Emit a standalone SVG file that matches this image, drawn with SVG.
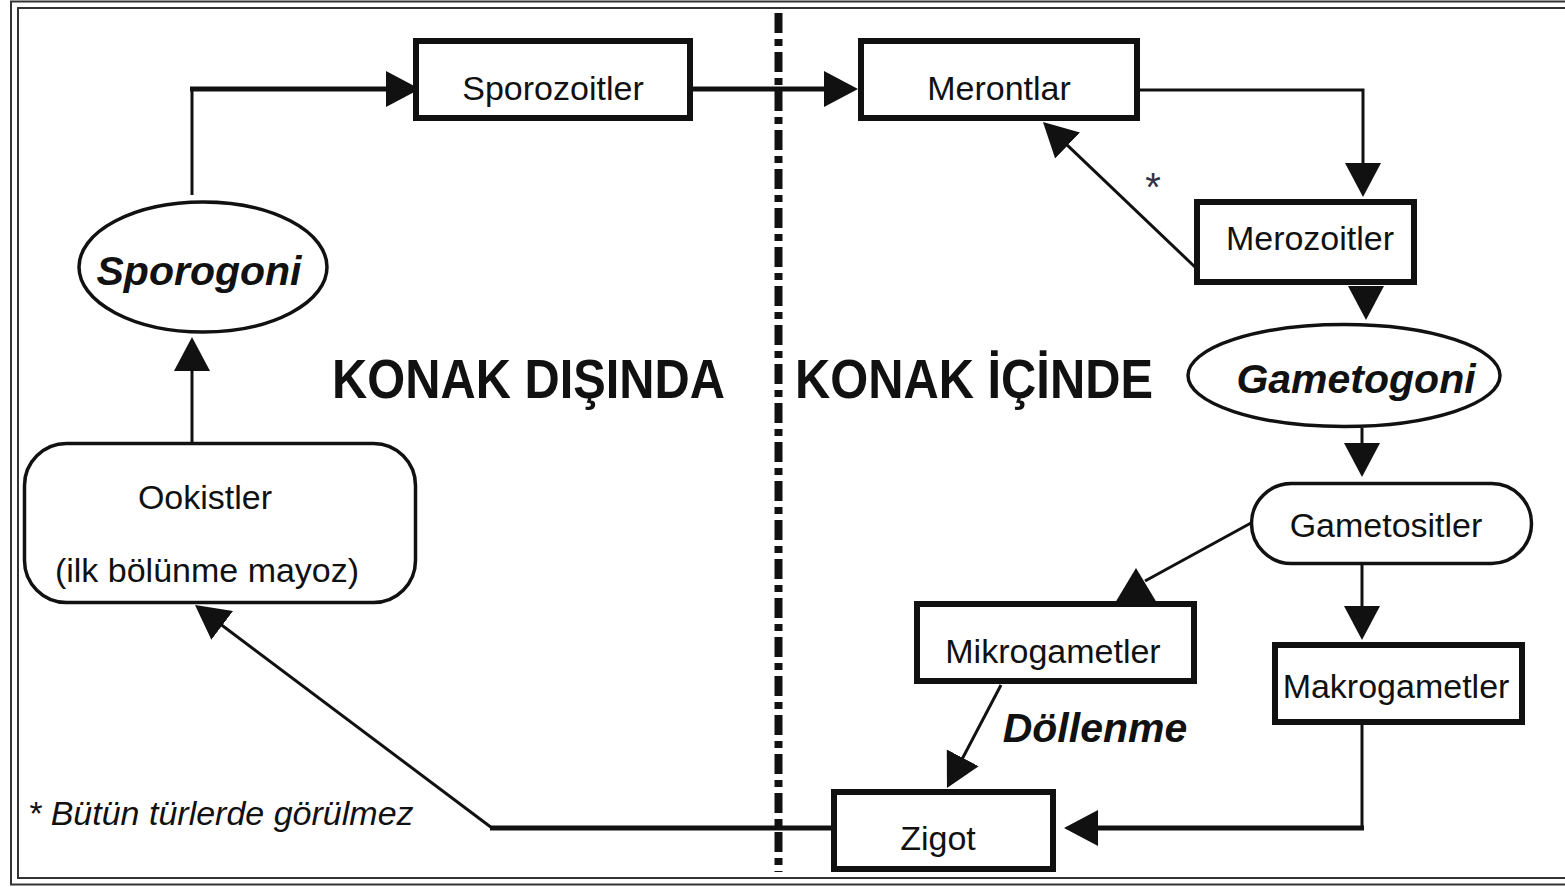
<svg xmlns="http://www.w3.org/2000/svg" width="1565" height="887" viewBox="0 0 1565 887">
<style>
.box{fill:#fff;stroke:#111;stroke-width:6}
.rnd{fill:#fff;stroke:#111;stroke-width:3.5}
.t{font-family:"Liberation Sans",Arial,sans-serif;font-size:34px;fill:#111;text-anchor:middle}
.bi{font-family:"Liberation Sans",Arial,sans-serif;font-size:41px;font-weight:bold;font-style:italic;fill:#111;text-anchor:middle}
.big{font-family:"Liberation Sans",Arial,sans-serif;font-size:55px;font-weight:bold;fill:#111}
.thin{fill:none;stroke:#111;stroke-width:3}
.thick{fill:none;stroke:#111;stroke-width:5}
.ah{fill:#111}
.frame{fill:none;stroke:#333;stroke-width:2}
</style>
<defs>
<marker id="ah" viewBox="0 0 34 36" refX="24" refY="18" markerWidth="34" markerHeight="36" markerUnits="userSpaceOnUse" orient="auto">
<path d="M0,0 L34,18 L0,36 Z" fill="#111"/>
</marker>
</defs>
<rect x="0" y="0" width="1565" height="887" fill="#fff"/>
<g id="frame">
<rect class="frame" x="11" y="1.5" width="1570" height="883"/>
<rect class="frame" x="18" y="8" width="1570" height="870"/>
</g>
<g id="divider">
<line x1="778.5" y1="13" x2="778.5" y2="872" stroke="#111" stroke-width="8" stroke-dasharray="20 6 7 6"/>
</g>
<g id="labels">
<text class="big" x="332" y="398" textLength="393" lengthAdjust="spacingAndGlyphs">KONAK DIŞINDA</text>
<text class="big" x="795" y="398" textLength="358" lengthAdjust="spacingAndGlyphs">KONAK İÇİNDE</text>
<text class="bi" x="1095" y="742">Döllenme</text>
<text font-family="Liberation Sans,Arial,sans-serif" font-size="34" font-style="italic" fill="#111" x="28" y="825">* Bütün türlerde görülmez</text>
<text font-family="Liberation Sans,Arial,sans-serif" font-size="40" fill="#334" x="1153" y="201" text-anchor="middle">*</text>
</g>
<g id="connectors">
<line class="thin" x1="192" y1="195" x2="192" y2="87"/>
<line class="thick" x1="190" y1="89" x2="410" y2="89" marker-end="url(#ah)"/>
<line class="thick" x1="693" y1="89" x2="848" y2="89" marker-end="url(#ah)"/>
<path class="thin" d="M1140,90 H1363 V187" marker-end="url(#ah)"/>
<line class="thin" x1="1195" y1="267" x2="1050.2" y2="128.9" stroke-width="3.5" marker-end="url(#ah)"/>
<line class="thin" x1="1366" y1="286" x2="1366" y2="310" marker-end="url(#ah)"/>
<line class="thin" x1="1362" y1="428" x2="1362" y2="467" marker-end="url(#ah)"/>
<line class="thin" x1="1251" y1="523" x2="1145" y2="581"/>
<polygon class="ah" points="1136,568 1157,603 1115,603"/>
<line class="thin" x1="1362" y1="563" x2="1362" y2="630" marker-end="url(#ah)"/>
<line class="thin" x1="1001" y1="685" x2="951.6" y2="779.1" marker-end="url(#ah)"/>
<line class="thin" x1="1362" y1="725" x2="1362" y2="830"/>
<line class="thick" x1="1364" y1="828" x2="1074" y2="828" marker-end="url(#ah)"/>
<line class="thick" x1="831" y1="828" x2="490" y2="828"/>
<line class="thin" x1="492" y1="828" x2="203" y2="611" marker-end="url(#ah)"/>
<line class="thin" x1="192" y1="442" x2="192" y2="347" marker-end="url(#ah)"/>
</g>
<g id="sporogoni">
<ellipse class="rnd" cx="203" cy="267" rx="124" ry="65" stroke-width="3"/>
<text class="bi" x="199" y="285">Sporogoni</text>
</g>
<g id="sporozoitler">
<rect class="box" x="416" y="41" width="274" height="77"/>
<text class="t" x="553" y="100">Sporozoitler</text>
</g>
<g id="merontlar">
<rect class="box" x="861" y="41" width="276" height="77"/>
<text class="t" x="999" y="100">Merontlar</text>
</g>
<g id="merozoitler">
<rect class="box" x="1197" y="202" width="217" height="80"/>
<text class="t" x="1310" y="250">Merozoitler</text>
</g>
<g id="gametogoni">
<ellipse class="rnd" cx="1344" cy="375.5" rx="156" ry="51" stroke-width="3"/>
<text class="bi" x="1356" y="393">Gametogoni</text>
</g>
<g id="gametositler">
<rect class="rnd" x="1251.5" y="483.5" width="280" height="80" rx="40" ry="40"/>
<text class="t" x="1386" y="537">Gametositler</text>
</g>
<g id="mikrogametler">
<rect class="box" x="917" y="604" width="277" height="77"/>
<text class="t" x="1053" y="663">Mikrogametler</text>
</g>
<g id="makrogametler">
<rect class="box" x="1275" y="645" width="247" height="77"/>
<text class="t" x="1396" y="698">Makrogametler</text>
</g>
<g id="zigot">
<rect class="box" x="834" y="792" width="219" height="77"/>
<text class="t" x="938" y="850">Zigot</text>
</g>
<g id="ookistler">
<rect class="rnd" x="24.5" y="443.5" width="391" height="159" rx="42" ry="42"/>
<text class="t" x="205" y="509">Ookistler</text>
<text class="t" x="207" y="582" font-size="33">(ilk bölünme mayoz)</text>
</g>
</svg>
